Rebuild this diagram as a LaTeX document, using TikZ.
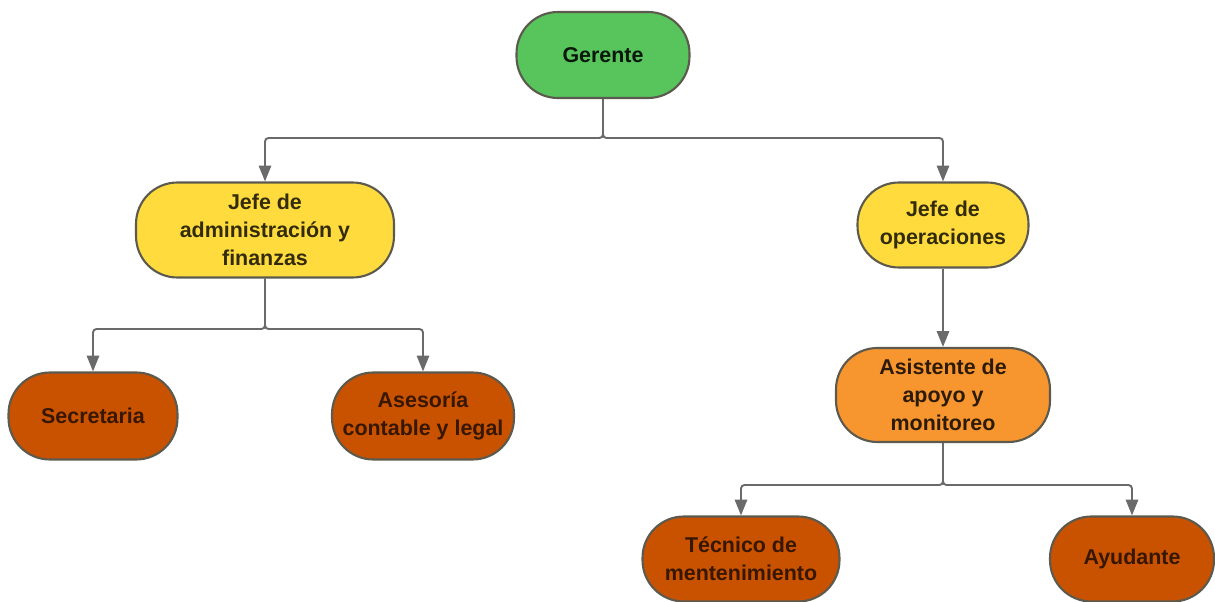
\documentclass[tikz,border=0pt]{standalone}
\usepackage{fontspec}
\setmainfont{Liberation Sans}
\usepackage{tikz}
\usetikzlibrary{arrows.meta,positioning,calc}
\definecolor{orggreen}{HTML}{57C45C}
\definecolor{orgyellow}{HTML}{FFDB3D}
\definecolor{orgrust}{HTML}{C85200}
\definecolor{orgorange}{HTML}{F7952F}
\definecolor{orgedge}{HTML}{5C5A4E}
\definecolor{orggray}{HTML}{6A6A6A}
\tikzset{
 org flow/.style={-{Triangle[length=9pt,width=7pt]},line width=1.1pt,draw=orggray,
   rounded corners=2pt},
 org box/.style={draw=orgedge,line width=1.2pt,rounded corners=23.5pt,align=center,
   minimum height=1.72cm,inner sep=2pt,
   font=\bfseries\fontsize{12.2}{15.9}\selectfont},
 org head/.style={org box,fill=orggreen,text=orggreen!12!black},
 org chief/.style={org box,fill=orgyellow,text=orgyellow!20!black},
 org aide/.style={org box,fill=orgorange,text=orgorange!18!black},
 org staff/.style={org box,fill=orgrust,text=orgrust!28!black}
}
\begin{document}
\begin{tikzpicture}[x=0.02cm,y=-0.02cm]
\useasboundingbox (0,0) rectangle (1215,602);
\node[org head,minimum width=3.46cm] (gerente) at (603,55) {Gerente};
\node[org chief,minimum width=5.16cm,minimum height=1.9cm] (jadmin) at (265,230)
 {Jefe de\\administración y\\finanzas};
\node[org chief,minimum width=3.42cm,minimum height=1.7cm] (jops) at (943,225)
 {Jefe de\\operaciones};
\node[org staff,minimum width=3.38cm,minimum height=1.74cm] (secre) at (93,416)
 {Secretaria};
\node[org staff,minimum width=3.64cm,minimum height=1.74cm] (asesor) at (423,416)
 {Asesoría\\contable y legal};
\node[org aide,minimum width=4.28cm,minimum height=1.88cm] (asist) at (943,395)
 {Asistente de\\apoyo y\\monitoreo};
\node[org staff,minimum width=3.94cm,minimum height=1.7cm] (tecnico) at (741,559)
 {Técnico de\\mentenimiento};
\node[org staff,minimum width=3.28cm,minimum height=1.7cm] (ayud) at (1132,559)
 {Ayudante};
% elbow connectors
\coordinate (top bar) at (gerente.south |- 0,138);
\coordinate (admin bar) at (jadmin.south |- 0,329);
\coordinate (ops bar) at (asist.south |- 0,485);
\draw[org flow] (gerente.south) -- (top bar) -| (jadmin.north);
\draw[org flow] (gerente.south) -- (top bar) -| (jops.north);
\draw[org flow] (jadmin.south) -- (admin bar) -| (secre.north);
\draw[org flow] (jadmin.south) -- (admin bar) -| (asesor.north);
\draw[org flow] (jops.south) -- (asist.north);
\draw[org flow] (asist.south) -- (ops bar) -| (tecnico.north);
\draw[org flow] (asist.south) -- (ops bar) -| (ayud.north);
\end{tikzpicture}
\end{document}
